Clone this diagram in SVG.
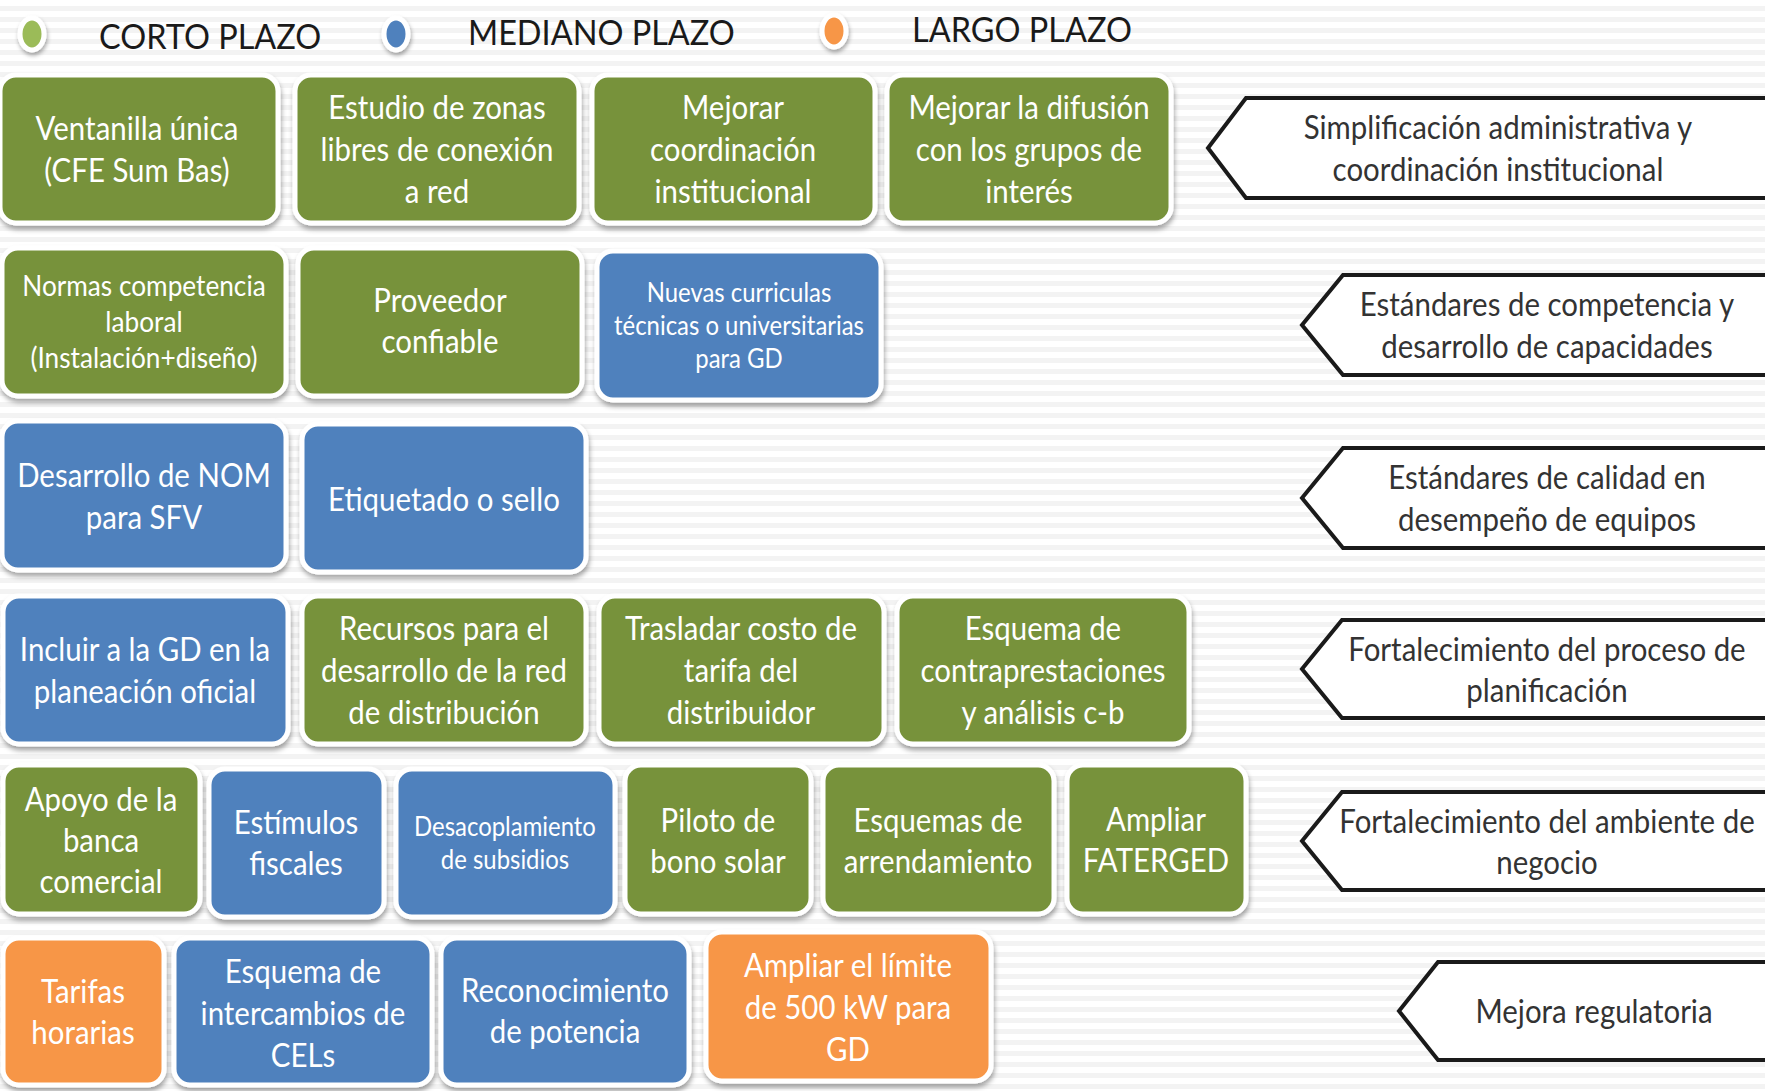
<svg xmlns="http://www.w3.org/2000/svg" width="1765" height="1091" viewBox="0 0 1765 1091">
  <defs>
    <pattern id="stripes" width="12" height="11" patternUnits="userSpaceOnUse">
      <rect width="12" height="11" fill="#ffffff"/>
      <rect y="6" width="12" height="5" fill="#f3f3f3"/>
    </pattern>
    <filter id="shadow" x="-10%" y="-10%" width="120%" height="130%">
      <feDropShadow dx="1" dy="4" stdDeviation="2.5" flood-color="#000" flood-opacity="0.35"/>
    </filter>
    <filter id="dotshadow" x="-50%" y="-50%" width="200%" height="200%">
      <feDropShadow dx="1" dy="3" stdDeviation="2" flood-color="#000" flood-opacity="0.35"/>
    </filter>
  </defs>
  <style>
    .box { stroke: #ffffff; stroke-width: 5; filter: url(#shadow); }
    .g { fill: #77923b; }
    .b { fill: #4f81bd; }
    .o { fill: #f79646; }
    /* narrow lettering: squeeze each line around its own centre */
    .t, .tt { transform-box: fill-box; transform-origin: center; transform: scaleX(0.92); }
    .t { font-family: Lato, "Liberation Sans", sans-serif; font-size: 32px; fill: #ffffff; text-anchor: middle; dominant-baseline: central; }
    .ts { font-size: 28.5px; }
    .tx { font-size: 26px; }
    .tag { fill: #ffffff; stroke: #1a1a1a; stroke-width: 4; stroke-linejoin: miter; }
    .tt { font-family: Lato, "Liberation Sans", sans-serif; font-size: 32px; fill: #333333; text-anchor: middle; dominant-baseline: central; }
    .leg { font-family: Lato, "Liberation Sans", sans-serif; font-size: 34px; fill: #1a1a1a; dominant-baseline: central;
           transform-box: fill-box; transform-origin: left center; transform: scaleX(0.955); }
    .dot { stroke: #ffffff; stroke-width: 5; filter: url(#dotshadow); }
  </style>

  <rect width="1765" height="1091" fill="url(#stripes)"/>

  <!-- legend -->
  <g id="legend">
    <ellipse class="dot" cx="32" cy="34" rx="12" ry="16" fill="#9bbb59"/>
    <text class="leg" x="99" y="36">CORTO PLAZO</text>
    <ellipse class="dot" cx="396" cy="34" rx="12" ry="16" fill="#4f81bd"/>
    <text class="leg" x="468" y="32">MEDIANO PLAZO</text>
    <ellipse class="dot" cx="834" cy="31" rx="12" ry="16" fill="#f79646"/>
    <text class="leg" x="912" y="29">LARGO PLAZO</text>
  </g>

  <!-- row 1 -->
  <g id="ventanilla">
    <rect class="box g" x="0" y="75" width="278" height="148" rx="16"/>
    <text class="t" x="137" y="128">Ventanilla única</text>
    <text class="t" x="137" y="170">(CFE Sum Bas)</text>
  </g>
  <g id="estudio-zonas">
    <rect class="box g" x="295" y="75" width="284" height="148" rx="16"/>
    <text class="t" x="437" y="107">Estudio de zonas</text>
    <text class="t" x="437" y="149">libres de conexión</text>
    <text class="t" x="437" y="191">a red</text>
  </g>
  <g id="coordinacion">
    <rect class="box g" x="592" y="75" width="283" height="148" rx="16"/>
    <text class="t" x="733" y="107">Mejorar</text>
    <text class="t" x="733" y="149">coordinación</text>
    <text class="t" x="733" y="191">institucional</text>
  </g>
  <g id="difusion">
    <rect class="box g" x="887" y="75" width="284" height="148" rx="16"/>
    <text class="t" x="1029" y="107">Mejorar la difusión</text>
    <text class="t" x="1029" y="149">con los grupos de</text>
    <text class="t" x="1029" y="191">interés</text>
  </g>

  <!-- row 2 -->
  <g id="normas">
    <rect class="box g" x="2" y="248" width="284" height="148" rx="16"/>
    <text class="t ts" x="144" y="285">Normas competencia</text>
    <text class="t ts" x="144" y="321">laboral</text>
    <text class="t ts" x="144" y="357">(Instalación+diseño)</text>
  </g>
  <g id="proveedor">
    <rect class="box g" x="298" y="248" width="284" height="148" rx="16"/>
    <text class="t" x="440" y="300">Proveedor</text>
    <text class="t" x="440" y="341">confiable</text>
  </g>
  <g id="curriculas">
    <rect class="box b" x="597" y="251" width="284" height="149" rx="16"/>
    <text class="t tx" x="739" y="292">Nuevas curriculas</text>
    <text class="t tx" x="739" y="325">técnicas o universitarias</text>
    <text class="t tx" x="739" y="358">para GD</text>
  </g>

  <!-- row 3 -->
  <g id="nom-sfv">
    <rect class="box b" x="2" y="421" width="284" height="149" rx="16"/>
    <text class="t" x="144" y="475">Desarrollo de NOM</text>
    <text class="t" x="144" y="517">para SFV</text>
  </g>
  <g id="etiquetado">
    <rect class="box b" x="302" y="424" width="284" height="148" rx="16"/>
    <text class="t" x="444" y="499">Etiquetado o sello</text>
  </g>

  <!-- row 4 -->
  <g id="planeacion">
    <rect class="box b" x="3" y="596" width="285" height="148" rx="16"/>
    <text class="t" x="145" y="649">Incluir a la GD en la</text>
    <text class="t" x="145" y="691">planeación oficial</text>
  </g>
  <g id="recursos-red">
    <rect class="box g" x="302" y="596" width="284" height="148" rx="16"/>
    <text class="t" x="444" y="628">Recursos para el</text>
    <text class="t" x="444" y="670">desarrollo de la red</text>
    <text class="t" x="444" y="712">de distribución</text>
  </g>
  <g id="trasladar-costo">
    <rect class="box g" x="599" y="596" width="285" height="148" rx="16"/>
    <text class="t" x="741" y="628">Trasladar costo de</text>
    <text class="t" x="741" y="670">tarifa del</text>
    <text class="t" x="741" y="712">distribuidor</text>
  </g>
  <g id="contraprestaciones">
    <rect class="box g" x="897" y="596" width="292" height="148" rx="16"/>
    <text class="t" x="1043" y="628">Esquema de</text>
    <text class="t" x="1043" y="670">contraprestaciones</text>
    <text class="t" x="1043" y="712">y análisis c-b</text>
  </g>

  <!-- row 5 -->
  <g id="banca">
    <rect class="box g" x="3" y="765" width="197" height="149" rx="16"/>
    <text class="t" x="101" y="799">Apoyo de la</text>
    <text class="t" x="101" y="840">banca</text>
    <text class="t" x="101" y="881">comercial</text>
  </g>
  <g id="estimulos">
    <rect class="box b" x="209" y="769" width="175" height="148" rx="16"/>
    <text class="t" x="296" y="822">Estímulos</text>
    <text class="t" x="296" y="863">fiscales</text>
  </g>
  <g id="desacoplamiento">
    <rect class="box b" x="396" y="769" width="219" height="148" rx="16"/>
    <text class="t tx" x="505" y="826">Desacoplamiento</text>
    <text class="t tx" x="505" y="859">de subsidios</text>
  </g>
  <g id="bono-solar">
    <rect class="box g" x="625" y="765" width="186" height="149" rx="16"/>
    <text class="t" x="718" y="820">Piloto de</text>
    <text class="t" x="718" y="861">bono solar</text>
  </g>
  <g id="arrendamiento">
    <rect class="box g" x="823" y="765" width="231" height="149" rx="16"/>
    <text class="t" x="938" y="820">Esquemas de</text>
    <text class="t" x="938" y="861">arrendamiento</text>
  </g>
  <g id="faterged">
    <rect class="box g" x="1067" y="765" width="179" height="149" rx="16"/>
    <text class="t" x="1156" y="819">Ampliar</text>
    <text class="t" x="1156" y="860">FATERGED</text>
  </g>

  <!-- row 6 -->
  <g id="tarifas-horarias">
    <rect class="box o" x="3" y="938" width="161" height="147" rx="16"/>
    <text class="t" x="83" y="991">Tarifas</text>
    <text class="t" x="83" y="1032">horarias</text>
  </g>
  <g id="intercambios-cels">
    <rect class="box b" x="174" y="938" width="258" height="147" rx="16"/>
    <text class="t" x="303" y="971">Esquema de</text>
    <text class="t" x="303" y="1013">intercambios de</text>
    <text class="t" x="303" y="1055">CELs</text>
  </g>
  <g id="potencia">
    <rect class="box b" x="441" y="938" width="248" height="147" rx="16"/>
    <text class="t" x="565" y="990">Reconocimiento</text>
    <text class="t" x="565" y="1031">de potencia</text>
  </g>
  <g id="limite-500kw">
    <rect class="box o" x="706" y="932" width="285" height="149" rx="16"/>
    <text class="t" x="848" y="965">Ampliar el límite</text>
    <text class="t" x="848" y="1007">de 500 kW para</text>
    <text class="t" x="848" y="1049">GD</text>
  </g>

  <!-- category tags on the right -->
  <g id="tag-simplificacion">
    <path class="tag" d="M1790 98 H1246 L1208 148 L1246 198 H1790"/>
    <text class="tt" x="1498" y="127">Simplificación administrativa y</text>
    <text class="tt" x="1498" y="169">coordinación institucional</text>
  </g>
  <g id="tag-competencia">
    <path class="tag" d="M1790 275 H1343 L1302 325 L1343 375 H1790"/>
    <text class="tt" x="1547" y="304">Estándares de competencia y</text>
    <text class="tt" x="1547" y="346">desarrollo de capacidades</text>
  </g>
  <g id="tag-calidad">
    <path class="tag" d="M1790 448 H1343 L1302 498 L1343 548 H1790"/>
    <text class="tt" x="1547" y="477">Estándares de calidad en</text>
    <text class="tt" x="1547" y="519">desempeño de equipos</text>
  </g>
  <g id="tag-planificacion">
    <path class="tag" d="M1790 620 H1342 L1302 669 L1342 718 H1790"/>
    <text class="tt" x="1547" y="649">Fortalecimiento del proceso de</text>
    <text class="tt" x="1547" y="690">planificación</text>
  </g>
  <g id="tag-negocio">
    <path class="tag" d="M1790 792 H1342 L1302 841 L1342 890 H1790"/>
    <text class="tt" x="1547" y="821">Fortalecimiento del ambiente de</text>
    <text class="tt" x="1547" y="862">negocio</text>
  </g>
  <g id="tag-regulatoria">
    <path class="tag" d="M1790 962 H1438 L1399 1011 L1438 1060 H1790"/>
    <text class="tt" x="1594" y="1011">Mejora regulatoria</text>
  </g>

  <!-- no connectors in this chart -->
  <g id="connectors"/>
</svg>
